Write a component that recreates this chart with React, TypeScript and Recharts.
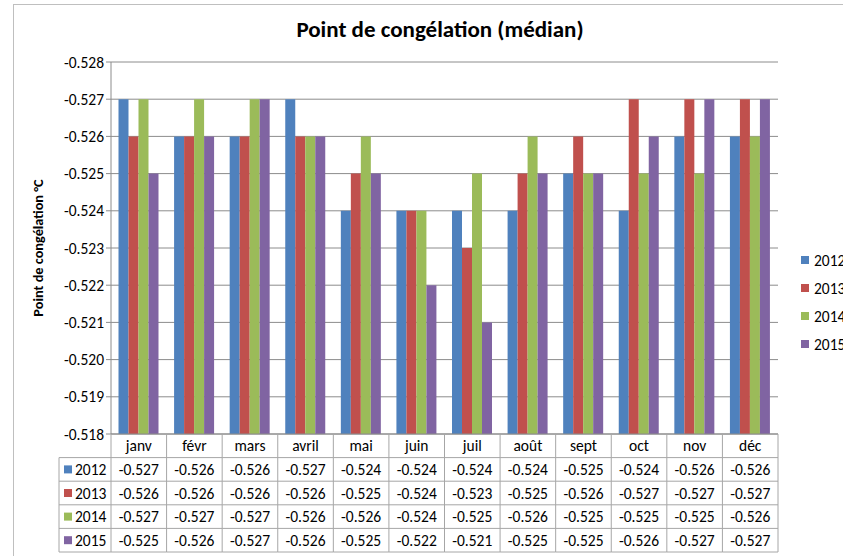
import { BarChart, Bar, XAxis, YAxis, CartesianGrid, Legend } from 'recharts';

const months = ['janv', 'févr', 'mars', 'avril', 'mai', 'juin', 'juil', 'août', 'sept', 'oct', 'nov', 'déc'];
const s2012 = [-0.527, -0.526, -0.526, -0.527, -0.524, -0.524, -0.524, -0.524, -0.525, -0.524, -0.526, -0.526];
const s2013 = [-0.526, -0.526, -0.526, -0.526, -0.525, -0.524, -0.523, -0.525, -0.526, -0.527, -0.527, -0.527];
const s2014 = [-0.527, -0.527, -0.527, -0.526, -0.526, -0.524, -0.525, -0.526, -0.525, -0.525, -0.525, -0.526];
const s2015 = [-0.525, -0.526, -0.527, -0.526, -0.525, -0.522, -0.521, -0.525, -0.525, -0.526, -0.527, -0.527];
const seriesNames = ['2012', '2013', '2014', '2015'];
const seriesColors = ['#4F81BD', '#C0504D', '#9BBB59', '#8064A2'];
const seriesValues = [s2012, s2013, s2014, s2015];
const yTicks = [-0.528, -0.527, -0.526, -0.525, -0.524, -0.523, -0.522, -0.521, -0.52, -0.519, -0.518];

const data = months.map((m, i) => ({
  month: m,
  y2012: s2012[i],
  y2013: s2013[i],
  y2014: s2014[i],
  y2015: s2015[i],
}));

const FONT = 'Carlito, Calibri, Lato, sans-serif';
const FS = 15.5;
const W = 843;
const H = 556;
const PLOT_LEFT = 111;
const PLOT_RIGHT = 778;
const PLOT_TOP = 62;
const PLOT_BOTTOM = 434;
const ROW_H = 23.6;
const KEY_W = 52;
const LINE = '#A6A6A6';

const TableTick = (props: any) => {
  const { x, y, payload, index } = props;
  const cw = (PLOT_RIGHT - PLOT_LEFT) / months.length;
  const left = x - cw / 2;
  const bottom = y + ROW_H * 5;
  return (
    <g fontFamily={FONT} fontSize={FS} fill="#000">
      <line x1={left + cw} y1={y} x2={left + cw} y2={bottom} stroke={LINE} />
      {index === 0 && <line x1={left} y1={y} x2={left} y2={bottom} stroke={LINE} />}
      <text x={x} y={y + ROW_H / 2 + 5} textAnchor="middle" fill="#000">{payload.value}</text>
      {seriesValues.map((vals, r) => {
        const rowTop = y + ROW_H * (r + 1);
        return (
          <g key={r}>
            <line x1={left} y1={rowTop} x2={left + cw} y2={rowTop} stroke={LINE} />
            <text x={x} y={rowTop + ROW_H / 2 + 5.5} textAnchor="middle" fill="#000">
              {vals[index].toFixed(3)}
            </text>
          </g>
        );
      })}
      <line x1={left} y1={bottom} x2={left + cw} y2={bottom} stroke={LINE} />
      {index === 0 && (
        <g>
          <line x1={left - KEY_W} y1={y + ROW_H} x2={left - KEY_W} y2={bottom} stroke={LINE} />
          {seriesNames.map((name, r) => {
            const rowTop = y + ROW_H * (r + 1);
            return (
              <g key={name}>
                <line x1={left - KEY_W} y1={rowTop} x2={left} y2={rowTop} stroke={LINE} />
                <rect x={left - KEY_W + 5} y={rowTop + ROW_H / 2 - 4} width={8} height={8} fill={seriesColors[r]} />
                <text x={left - KEY_W + 16} y={rowTop + ROW_H / 2 + 5.5} fill="#000">{name}</text>
              </g>
            );
          })}
          <line x1={left - KEY_W} y1={bottom} x2={left} y2={bottom} stroke={LINE} />
        </g>
      )}
    </g>
  );
};

const LegendContent = () => (
  <div style={{ fontFamily: FONT, fontSize: FS, color: '#000', width: 80 }}>
    {seriesNames.map((name, i) => (
      <div key={name} style={{ height: 28, display: 'flex', alignItems: 'center', whiteSpace: 'nowrap' }}>
        <span style={{ display: 'inline-block', width: 8, height: 8, background: seriesColors[i], marginRight: 5 }} />
        {name}
      </div>
    ))}
  </div>
);

const YLabel = (props: any) => {
  const { viewBox } = props;
  const cx = 43;
  const cy = viewBox.y + viewBox.height / 2;
  return (
    <text x={cx} y={cy} transform={`rotate(-90, ${cx}, ${cy})`} textAnchor="middle" fontFamily={FONT}
      fontSize={14.3} fontWeight="bold" fill="#000">
      Point de congélation °C
    </text>
  );
};

export default function App() {
  return (
    <div style={{ position: 'absolute', left: 0, top: 0, width: W, height: H, overflow: 'hidden', background: '#fff' }}>
      <div style={{ position: 'absolute', left: 13, top: 4, width: 900, height: 600, border: '1px solid #BFBFBF' }} />
      <div style={{ position: 'absolute', left: 0, top: 15, width: 880, textAlign: 'center', fontFamily: FONT,
        fontWeight: 'bold', fontSize: 23, color: '#000' }}>
        Point de congélation (médian)
      </div>
      <div style={{ position: 'absolute', left: 0, top: 0 }}>
        <BarChart
          width={W}
          height={H}
          data={data}
          margin={{ top: PLOT_TOP, right: W - PLOT_RIGHT, left: PLOT_LEFT - 70, bottom: 0 }}
          barCategoryGap="13.5%"
          barGap={0}
        >
          <CartesianGrid vertical={false} stroke="#8C8C8C" />
          <XAxis
            dataKey="month"
            height={H - PLOT_BOTTOM}
            tickLine={false}
            tickSize={0}
            tickMargin={0}
            axisLine={{ stroke: '#8C8C8C' }}
            tick={<TableTick />}
            interval={0}
          />
          <YAxis
            width={70}
            reversed
            domain={[-0.528, -0.518]}
            ticks={yTicks}
            allowDataOverflow
            tickFormatter={(v: number) => v.toFixed(3)}
            tick={{ fontFamily: FONT, fontSize: FS, fill: '#000' }}
            tickSize={5}
            tickLine={{ stroke: '#8C8C8C' }}
            axisLine={{ stroke: '#8C8C8C' }}
            label={<YLabel />}
          />
          <Legend
            layout="vertical"
            verticalAlign="top"
            align="right"
            content={<LegendContent />}
            wrapperStyle={{ position: 'absolute', left: 801, top: 246, width: 0, height: 0, overflow: 'visible' }}
          />
          {seriesNames.map((name, i) => (
            <Bar key={name} dataKey={`y${name}`} name={name} fill={seriesColors[i]} isAnimationActive={false} />
          ))}
        </BarChart>
      </div>
    </div>
  );
}
